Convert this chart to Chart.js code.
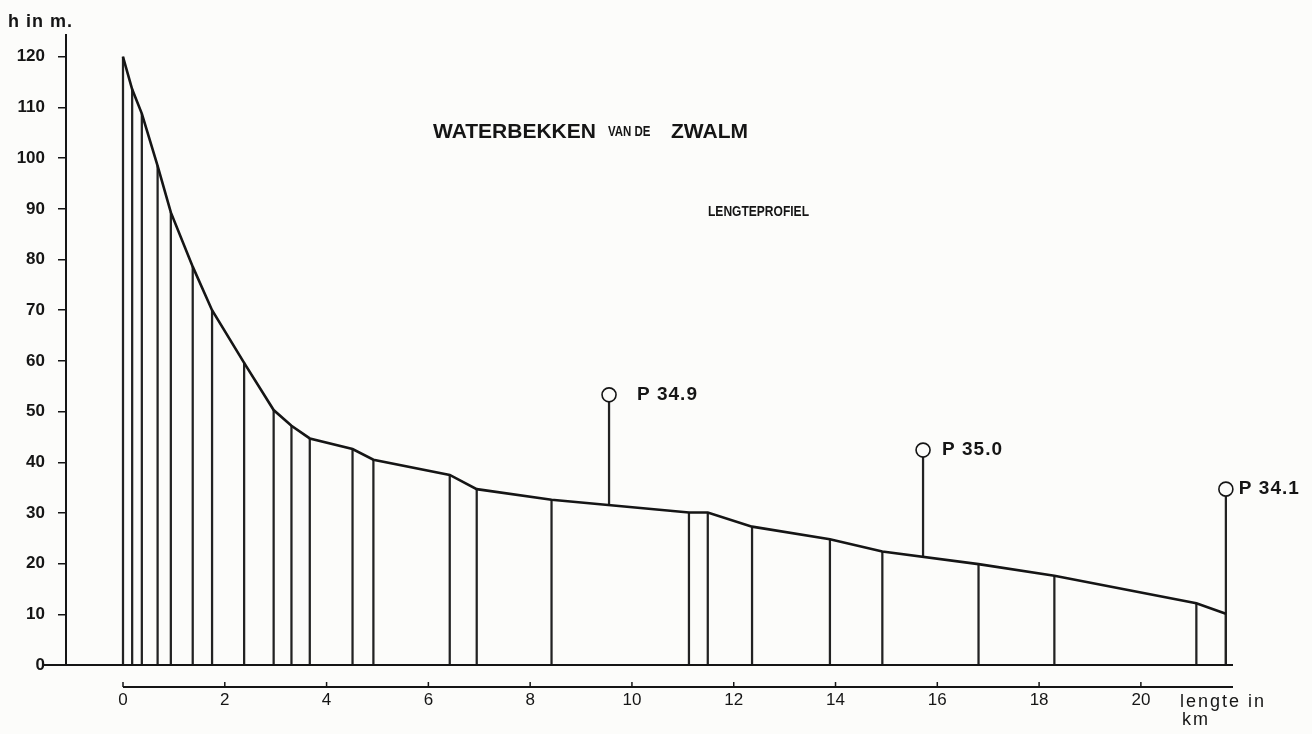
<!DOCTYPE html>
<html lang="nl">
<head>
    <meta charset="UTF-8">
    <title>Waterbekken van de Zwalm - lengteprofiel</title>
    <script src="https://cdn.jsdelivr.net/npm/chart.js"></script>
    <style>
        html, body {
            margin: 0;
            padding: 0;
            background: #fcfcfa;
        }
        canvas {
            display: block;
        }
    </style>
</head>

<body>
    <canvas id="profiel" width="1312" height="734"></canvas>

    <script>
        // lengteprofiel: afstand (km) en hoogte (m) van elk knikpunt
        const afstandKm = [0, 0.18, 0.37, 0.68, 0.94, 1.37, 1.75, 2.38, 2.96, 3.31, 3.67, 4.51, 4.92,
            6.42, 6.95, 8.42, 11.12, 11.49, 12.36, 13.89, 14.92, 16.81, 18.3, 21.09, 21.67];
        const hoogteM = [120, 113.6, 108.8, 98.5, 89.3, 78.6, 70, 59.6, 50.3, 47.2, 44.7, 42.6, 40.5,
            37.5, 34.7, 32.6, 30.1, 30.1, 27.3, 24.8, 22.4, 19.9, 17.6, 12.2, 10.1];

        // peilpunten
        const peilNamen = ["P 34.9", "P 35.0", "P 34.1"];
        const peilKm = [9.55, 15.72, 21.67];
        const peilVoet = [31.7, 21.5, 0];
        const peilTop = [53.3, 42.4, 34.7];

        const xTicks = [0, 2, 4, 6, 8, 10, 12, 14, 16, 18, 20];
        const yTicks = [0, 10, 20, 30, 40, 50, 60, 70, 80, 90, 100, 110, 120];

        const INKT = "#151515";
        Chart.defaults.font.family = "'Liberation Sans', Arial, sans-serif";
        Chart.defaults.color = INKT;

        // smalle tekst (het origineel gebruikt een sjabloonletter)
        function smalTekst(ctx, tekst, x, y, grootte, breedte) {
            ctx.save();
            ctx.translate(x, y);
            ctx.scale(breedte, 1);
            ctx.font = "bold " + grootte + "px 'Liberation Sans', Arial, sans-serif";
            ctx.fillText(tekst, 0, 0);
            ctx.restore();
        }

        // extra tekeningen: titel, basislijn, km-as, peilnamen
        const tekstPlugin = {
            id: "tekst",
            beforeDraw(chart) {
                const ctx = chart.ctx;
                ctx.save();
                ctx.fillStyle = "#fcfcfa";
                ctx.fillRect(0, 0, chart.width, chart.height);
                ctx.restore();
            },
            afterDraw(chart) {
                const ctx = chart.ctx;
                const xs = chart.scales.x;
                const ys = chart.scales.y;
                const area = chart.chartArea;
                const y0 = ys.getPixelForValue(0);
                ctx.save();
                ctx.strokeStyle = INKT;
                ctx.fillStyle = INKT;

                // basislijn h = 0
                ctx.lineWidth = 2;
                ctx.beginPath();
                ctx.moveTo(area.left - 23, y0);
                ctx.lineTo(area.right, y0);
                ctx.stroke();

                // km-as onder de figuur
                const yas = y0 + 22;
                ctx.lineWidth = 2;
                ctx.beginPath();
                ctx.moveTo(xs.getPixelForValue(0), yas);
                ctx.lineTo(area.right, yas);
                ctx.stroke();
                ctx.lineWidth = 1.5;
                xTicks.forEach(v => {
                    const px = xs.getPixelForValue(v);
                    ctx.beginPath();
                    ctx.moveTo(px, yas);
                    ctx.lineTo(px, yas - 5);
                    ctx.stroke();
                });

                ctx.textBaseline = "alphabetic";
                ctx.textAlign = "left";
                ctx.font = "18px 'Liberation Sans', Arial, sans-serif";
                ctx.letterSpacing = "2px";
                ctx.fillText("lengte in", area.right - 53, 707);
                ctx.fillText("km", area.right - 51, 725);
                ctx.letterSpacing = "1px";

                // as-titel
                ctx.font = "bold 18px 'Liberation Sans', Arial, sans-serif";
                ctx.fillText("h in m.", 8, 27);
                ctx.letterSpacing = "0px";

                // titel
                ctx.font = "bold 21px 'Liberation Sans', Arial, sans-serif";
                ctx.fillText("WATERBEKKEN", 433, 138);
                ctx.fillText("ZWALM", 671, 138);
                smalTekst(ctx, "VAN DE", 608, 136, 14, 0.82);
                smalTekst(ctx, "LENGTEPROFIEL", 708, 216, 14, 0.86);

                // peilnamen naast de cirkels
                const dx = [28, 19, 13];
                ctx.font = "bold 19px 'Liberation Sans', Arial, sans-serif";
                ctx.letterSpacing = "1px";
                ctx.textBaseline = "middle";
                peilNamen.forEach((naam, i) => {
                    const px = xs.getPixelForValue(peilKm[i]);
                    const py = ys.getPixelForValue(peilTop[i]);
                    ctx.fillText(naam, px + dx[i], py);
                });
                ctx.restore();
            }
        };

        new Chart(document.getElementById("profiel"), {
            type: "bar",
            data: {
                datasets: [
                    {
                        type: "scatter",
                        label: "peilpunt",
                        data: peilKm.map((x, i) => ({ x: x, y: peilTop[i] })),
                        pointStyle: "circle",
                        pointRadius: 7,
                        pointBorderWidth: 1.6,
                        pointBorderColor: INKT,
                        pointBackgroundColor: "#fcfcfa",
                        showLine: false,
                        clip: false,
                        order: 0
                    },
                    {
                        type: "line",
                        label: "profiel",
                        data: afstandKm.map((x, i) => ({ x: x, y: hoogteM[i] })),
                        borderColor: INKT,
                        borderWidth: 2.6,
                        pointRadius: 0,
                        tension: 0,
                        fill: false,
                        order: 1
                    },
                    {
                        type: "bar",
                        label: "loodlijnen",
                        data: afstandKm.map((x, i) => ({ x: x, y: hoogteM[i] })),
                        backgroundColor: "#222",
                        barThickness: 1.6,
                        grouped: false,
                        order: 2
                    },
                    {
                        type: "bar",
                        label: "peilpalen",
                        data: peilKm.map((x, i) => ({ x: x, y: [peilVoet[i], peilTop[i]] })),
                        backgroundColor: "#222",
                        barThickness: 1.6,
                        grouped: false,
                        order: 3
                    }
                ]
            },
            plugins: [tekstPlugin],
            options: {
                responsive: false,
                animation: false,
                layout: {
                    padding: { left: 0, top: 35, right: 79, bottom: 0 }
                },
                plugins: {
                    legend: { display: false },
                    tooltip: { enabled: false }
                },
                scales: {
                    x: {
                        type: "linear",
                        min: -1.12,
                        max: 21.81,
                        offset: false,
                        afterFit: s => { s.height = 69; },
                        afterBuildTicks: s => { s.ticks = xTicks.map(v => ({ value: v })); },
                        grid: { display: false, drawTicks: false, offset: false },
                        border: { display: false },
                        ticks: {
                            padding: 25,
                            font: { size: 17 },
                            maxRotation: 0,
                            autoSkip: false
                        }
                    },
                    y: {
                        type: "linear",
                        min: 0,
                        max: 124.3,
                        afterFit: s => { s.width = 66; },
                        afterBuildTicks: s => { s.ticks = yTicks.map(v => ({ value: v })); },
                        grid: {
                            drawOnChartArea: false,
                            drawTicks: true,
                            tickLength: 8,
                            color: INKT,
                            lineWidth: 1.5
                        },
                        border: { display: true, color: INKT, width: 2 },
                        ticks: {
                            padding: 13,
                            font: { size: 17, weight: "bold" }
                        }
                    }
                }
            }
        });
    </script>
</body>
</html>
